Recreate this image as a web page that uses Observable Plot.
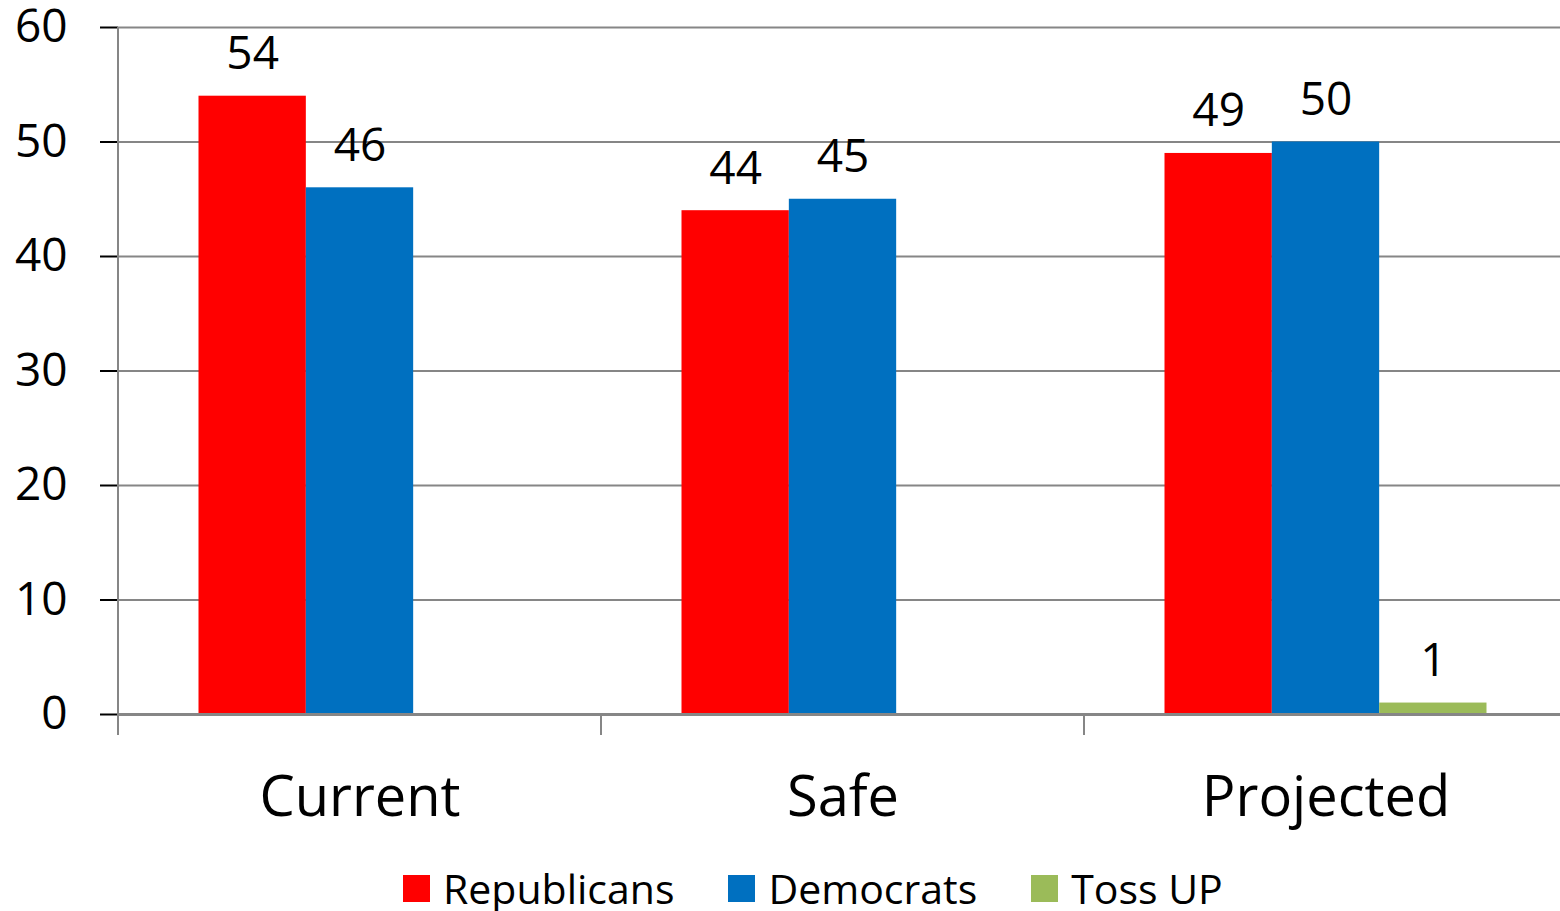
<!DOCTYPE html>
<html><head><meta charset="utf-8">
<script src="https://cdn.jsdelivr.net/npm/d3@7"></script>
<script src="https://cdn.jsdelivr.net/npm/@observablehq/plot@0.6"></script>
<style>
html,body{margin:0;padding:0;background:#fff;overflow:hidden;width:1560px;height:911px}
#chart{width:1560px;overflow:hidden}
#chart svg{display:block;max-width:none !important;height:850px !important}
.legend{display:flex;align-items:center;font-family:"Open Sans";font-size:41px;color:#000;margin-left:403px;margin-top:18px;height:40px;line-height:40px}
.item{display:flex;align-items:center;margin-right:54px}
.sw{width:27px;height:27px;margin-right:13px}
</style></head><body><div id="chart"></div><div class="legend" id="legend"></div>
<script>
const categories = ["Current", "Safe", "Projected"];
const seriesNames = ["Republicans", "Democrats", "Toss UP"];
const republicans = [54, 44, 49];
const democrats = [46, 45, 50];
const tossUp = [null, null, 1];
const seriesColors = ["#FF0000", "#0070C0", "#9BBB59"];
const yTicks = [0, 10, 20, 30, 40, 50, 60];

const rows = [];
[republicans, democrats, tossUp].forEach((vals, si) => vals.forEach((v, ci) => {
  if (v != null) rows.push({category: categories[ci], series: seriesNames[si], value: v});
}));

const gray = "#868686";
const chart = Plot.plot({
  width: 1567, height: 850,
  marginLeft: 118, marginRight: 0, marginTop: 27, marginBottom: 136,
  style: {fontFamily: "Open Sans", background: "white", color: "black", overflow: "visible"},
  fx: {domain: categories, padding: 0, round: false},
  x: {domain: seriesNames, paddingInner: 0, paddingOuter: 0.75, round: false, axis: null},
  y: {domain: [0, 60]},
  color: {domain: seriesNames, range: seriesColors},
  marks: [
    Plot.gridY(yTicks, {stroke: gray, strokeWidth: 2, strokeOpacity: 1}),
    Plot.barY(rows, {fx: "category", x: "series", y: "value", fill: "series"}),
    Plot.text(rows, {fx: "category", x: "series", y: "value", text: d => String(d.value), lineAnchor: "bottom", dy: -27, fontSize: 46, fill: "black"}),
    Plot.ruleY([0], {stroke: gray, strokeWidth: 3}),
    Plot.axisY(yTicks, {tickSize: 18, tickPadding: 33, fontSize: 46, label: null, tickFormat: d => String(d)}),
    Plot.axisFx({anchor: "bottom", tickSize: 0, tickPadding: 62, fontSize: 56, label: null})
  ]
});

const svg = d3.select(chart);
svg.selectAll('g[aria-label="y-axis tick"]').attr("stroke", gray).attr("stroke-width", 2);
const fx = chart.scale("fx");
const y = chart.scale("y");
const y0 = y.apply(0), yTop = y.apply(60);
const bounds = categories.map(c => fx.apply(c));
const g = svg.append("g").attr("stroke", gray).attr("stroke-width", 2);
g.append("line").attr("x1", bounds[0]).attr("x2", bounds[0]).attr("y1", yTop).attr("y2", y0 + 21);
bounds.slice(1).forEach(b => g.append("line").attr("x1", b).attr("x2", b).attr("y1", y0).attr("y2", y0 + 21));
document.getElementById("chart").append(chart);

const legend = document.getElementById("legend");
seriesNames.forEach((s, i) => {
  const it = document.createElement("div"); it.className = "item";
  const sw = document.createElement("div"); sw.className = "sw"; sw.style.background = seriesColors[i];
  const t = document.createElement("span"); t.textContent = s;
  it.append(sw, t); legend.append(it);
});
</script></body></html>
